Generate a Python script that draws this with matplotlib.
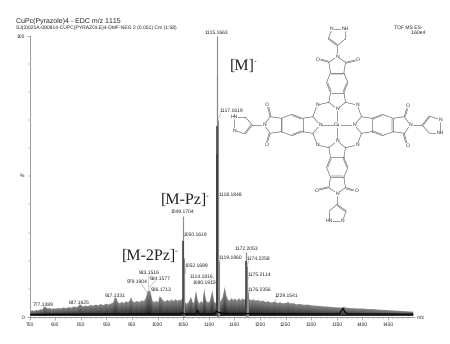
import numpy as np
import matplotlib
matplotlib.use("Agg")
import matplotlib.pyplot as plt

plt.rcParams['font.family'] = ['Liberation Sans', 'DejaVu Sans']
plt.rcParams['text.hinting'] = 'no_hinting'
plt.rcParams['text.hinting_factor'] = 1

# spectrum envelope (m/z, relative intensity %)
env_mz = [750,754,758,762,766,770,774,777,780,784,788,792,796,800,805,810,815,820,825,830,835,840,844,847,850,854,858,863,868,873,878,883,888,893,898,903,908,912,915,918,921,925,929,933,937,941,945,947,950,954,958,963,968,972,976,979,982,985,987,989,992,996,1000,1003,1006,1010,1014,1018,1022,1026,1030,1034,1038,1042,1045,1047,1053,1056,1060,1064,1067,1070,1074,1077,1080,1084,1087,1090,1093,1097,1101,1106,1109,1112,1120,1123,1126,1130,1133,1136,1140,1143,1147,1150,1154,1158,1161,1165,1168,1171,1178,1182,1186,1190,1195,1200,1205,1210,1215,1220,1225,1229,1233,1238,1243,1250,1254,1258,1264,1270,1278,1285,1292,1300,1310,1320,1330,1340,1350,1360,1363,1367,1372,1380,1390,1400,1410,1420,1430,1440,1450,1460,1475,1498]
env_h = [2.3,2.6,2.3,2.7,2.5,3.0,2.8,3.9,3.8,3.2,3.4,3.0,3.3,3.1,3.4,3.2,3.6,3.3,3.7,3.5,3.9,3.7,4.0,4.8,4.3,3.9,4.3,4.0,4.5,4.2,4.6,4.3,4.8,4.4,4.9,4.6,5.0,5.3,7.0,7.1,5.6,5.0,5.6,5.1,5.8,5.4,6.2,7.3,5.8,5.4,5.9,5.5,6.1,5.8,7.0,9.2,9.6,9.3,7.4,6.0,5.4,5.9,5.4,7.6,7.0,6.0,5.7,6.3,5.8,6.4,5.9,6.5,5.9,6.4,6.0,7.2,5.2,4.9,5.6,7.4,5.6,5.0,9.6,6.2,5.0,5.8,5.2,10.4,6.4,5.3,5.8,9.7,5.8,5.2,5.4,6.2,7.2,10.9,8.0,6.4,6.0,6.9,6.2,6.8,6.0,6.9,6.1,6.8,6.3,6.7,6.6,6.1,6.5,6.0,6.2,5.8,6.0,5.5,5.8,5.3,5.5,5.7,5.1,5.4,5.0,5.2,5.5,5.0,5.1,4.7,4.8,4.5,4.6,4.3,4.2,4.0,3.9,3.7,3.6,3.5,3.8,3.5,3.4,3.3,3.2,3.2,3.0,3.0,2.8,2.7,2.6,2.5,2.3,2.1]

# main peaks drawn as sticks: full height in light grey
stick_mz = [1049.17,1050.16,1051.2,1052.17,1115.17,1116.2,1117.16,1118.18,1119.2,1172.21,1173.2,1174.23,1175.21,1176.24]
stick_h = [36,29,21,14,100,86,70,42,20,23,22,18,13,9]

# darker core of the strongest peaks
core_mz = [1049.6,1115.8,1116.8,1172.7]
core_h = [27,68,58,20]

# low black trace near the baseline
base_mz = [750,900,1040,1049,1052,1075,1078,1081,1110,1115,1120,1128,1200,1355,1362,1365,1370,1498]
base_h = [0.9,1.1,1.1,1.4,1.1,1.1,2.4,1.1,1.1,2.0,1.6,1.2,1.2,1.1,3.1,2.0,1.1,1.0]

layer_frac = [1,.9,.8,.7,.6,.5,.4,.3,.22]
layer_col = ['#858585','#7a7a7a','#707070','#646464','#585858','#4c4c4c','#404040','#343434','#262626']

# peak labels: text, m/z anchor, height anchor, label centre x/y in pixels
labels = [("777.1389",777,3.9,43.5,304.7),("847.1625",847,4.6,79,303),("917.1331",917,6.9,115,296),
 ("983.1516",982,9.4,149,272.7),("979.1904",979,9.0,136.7,281.3),("984.1577",984,10.6,160,278.3),
 ("986.1713",986,8,160.7,290),("1049.1704",1049.17,36,182.7,212),("1050.1619",1050.16,29,195,234.3),
 ("1052.1699",1052.17,14,196,265.7),("1114.1816,",1114,12,201.7,277),("1090.1912",1090,10.4,204,283),
 ("1115.1663",1115.17,100,216,32.7),("1117.1619",1117.16,70,231,110.7),("1118.1848",1118.18,42,230,195),
 ("1119.1960",1119.2,20,230.3,258),("1172.2053",1172.21,23,246,249),("1174.2258",1174.23,18,258.7,258.7),
 ("1175.2114",1175.21,13,259,275),("1176.2356",1176.24,9,259.7,289.7),("1229.1541",1229,5.6,286.7,295.3)]

W, H = 450, 344
X0, X1, Y0, Y1 = 29.7, 413.6, 317.0, 35.7
fig = plt.figure(figsize=(W/100, H/100), dpi=100)
ax = fig.add_axes([X0/W, 1-Y0/H, (X1-X0)/W, (Y0-Y1)/H])
ax.set_xlim(750, 1500); ax.set_ylim(0, 100)
ax.patch.set_alpha(0)

em, eh = np.array(env_mz, float), np.array(env_h, float)
for f, c in zip(layer_frac, layer_col):
    ax.fill_between(em, 0.6, np.maximum(eh*f, 0.7), color=c, lw=0, zorder=2)
ax.vlines(stick_mz, 0.5, stick_h, color='#8a8a8a', lw=0.8, zorder=3)
ax.vlines(core_mz, 0.5, core_h, color='#3c3c3c', lw=1.1, zorder=3)
ax.plot(base_mz, base_h, color='#0a0a0a', lw=1.0, zorder=4)

for s in ['top','right']:
    ax.spines[s].set_visible(False)
for s in ['left','bottom']:
    ax.spines[s].set_color('#8c8c8c'); ax.spines[s].set_linewidth(0.6)
ax.set_xticks(np.arange(750,1500,50))
ax.set_xticks(np.arange(750,1500,10), minor=True)
ax.set_yticks([0,100]); ax.set_yticklabels(['0','100'])
ax.set_yticks(np.arange(0,101,10), minor=True)
ax.tick_params(axis='both', which='major', labelsize=3.9, length=2, width=0.4, pad=1.5, color='#777777', labelcolor='#222222')
ax.tick_params(axis='both', which='minor', length=1.1, width=0.3, color='#888888')

ov = fig.add_axes([0,0,1,1]); ov.set_xlim(0,W); ov.set_ylim(H,0); ov.axis('off'); ov.patch.set_alpha(0)
px = lambda m: X0+(m-750)*(X1-X0)/750
py = lambda h: Y0+(Y1-Y0)*h/100
TC = '#222222'
ov.text(16,20.3,"CuPc(Pyrazole)4 - EDC m/z 1115",fontsize=4.75,color=TC,va='center')
ov.text(16.5,27.3,"SJ(3)021A-080814-CUPC(PYRAZOLE)4-DMF-NEG 2 (0.051) Cm (1:58)",fontsize=3.45,color=TC,va='center')
ov.text(394,27.3,"TOF MS ES-",fontsize=3.6,color=TC,ha='left',va='center')
ov.text(426,32.7,"1.60e4",fontsize=3.4,color=TC,ha='right',va='center')
ov.text(421,317.7,"m/z",fontsize=3.4,color=TC,ha='center',va='center')
ov.text(22,176,"%",fontsize=3.6,color=TC,ha='center',va='center')
for t,m,h,x,y in labels:
    ov.text(x,y,t,fontsize=3.35,color=TC,ha='center',va='center',zorder=6)
    xa,ya = px(m),py(h)
    if abs(y-ya)>5 or abs(x-xa)>11:
        xe = x-10 if x>xa+11 else min(max(x,xa-6),xa+6)
        ye = y+2.2
        ov.plot([xa,xe],[ya,ye],color='#999999',lw=0.35,zorder=5)

# ion annotations
for t,x,y,fs in [("[M]",230,66,11.8),("[M-Pz]",161,200.5,11.8),("[M-2Pz]",122,256,11.8)]:
    tx = ov.text(x,y,t,fontsize=fs,family=['Liberation Serif'],color='#222222',va='center',ha='left')
    r = tx.get_window_extent(fig.canvas.get_renderer())
    ov.text(r.x1-1.5,y-5,"-",fontsize=6,family=['Liberation Serif'],color='#222222',va='center')

# molecule: one arm in 3x-zoom units relative to Cu, rotated four times
atoms = {'Nin':(0,48),'C1':(-25,68),'C2':(25,68),'b1':(-20,97),'b2':(20,97),'b3':(-32,127),'b4':(32,127),
 'b5':(-20,157),'b6':(20,157),'Ci1':(-25,188),'Ci2':(25,188),'Nim':(0,205),'O1':(-58,197),'O2':(62,197),
 'Pc':(0,238),'P1':(-27,258),'P2':(24,258),'Na':(-16,288),'Nb':(24,288),'Br1':(-60,60),'Br2':(60,60)}
bonds = [('Nin','C1'),('Nin','C2'),('C1','b1'),('C2','b2'),('b1','b2'),('b1','b3'),('b2','b4'),('b3','b5'),('b4','b6'),('b5','b6'),
 ('b5','Ci1'),('b6','Ci2'),('Ci1','Nim'),('Ci2','Nim'),('Ci1','O1'),('Ci2','O2'),('Nim','Pc'),('Pc','P1'),('Pc','P2'),('P1','Na'),('P2','Nb'),('Na','Nb'),('C1','Br1'),('C2','Br2')]
doubles = [('b1','b3'),('b2','b4'),('b5','b6'),('Pc','P1'),('Ci1','O1'),('Ci2','O2')]
texts = {'Nin':'N','Nim':'N','O1':'O','O2':'O','Na':'N','Nb':'NH','Br1':'N','Br2':'N'}
CX, CY = 337.2, 125.0
def place(p, k, name=''):
    x,y = p
    s = 1.0 if name.startswith('Br') else 1.07
    x,y = [(x,y),(y*s,-x),(-x,-y),(-y*s,x)][k]
    return CX+x/3, CY-y/3
MC = '#505050'
for k in range(4):
    pts = {n:place(p,k,n) for n,p in atoms.items()}
    for a,b in bonds:
        (x1,y1),(x2,y2) = pts[a],pts[b]
        gap1 = 2.2 if a in texts else 0
        gap2 = 2.2 if b in texts else 0
        d = np.hypot(x2-x1,y2-y1)
        ux,uy = (x2-x1)/d,(y2-y1)/d
        xa,ya,xb,yb = x1+ux*gap1,y1+uy*gap1,x2-ux*gap2,y2-uy*gap2
        ov.plot([xa,xb],[ya,yb],color=MC,lw=0.4,solid_capstyle='round',zorder=7)
        if (a,b) in doubles:
            nx,ny = -uy*1.1,ux*1.1
            mx,my = (x1+x2)/2,(y1+y2)/2
            ringx,ringy = pts['b1'][0]/2+pts['b6'][0]/2, pts['b1'][1]/2+pts['b6'][1]/2
            if a[0]=='b' and nx*(ringx-mx)+ny*(ringy-my)<0: nx,ny=-nx,-ny
            ov.plot([xa+nx+ux*.8,xb+nx-ux*.8],[ya+ny+uy*.8,yb+ny-uy*.8],color=MC,lw=0.35,zorder=7)
    ov.plot(*zip(pts['Nin'],(CX,CY)),color=MC,lw=0.4,zorder=7)
    for n,t in texts.items():
        if n.startswith('Br') and k%2==1:
            continue
        x,y = pts[n]
        if t=='NH' and k>=2: t='HN'
        ov.text(x,y,t,fontsize=3.9,color='#303030',ha='center',va='center',zorder=8,
                bbox=dict(fc='white',ec='none',pad=0.1))
ov.text(CX,CY,"Cu",fontsize=3.9,color='#303030',ha='center',va='center',zorder=8,bbox=dict(fc='white',ec='none',pad=0.3))

fig.savefig('out.png',dpi=100,facecolor='white')
